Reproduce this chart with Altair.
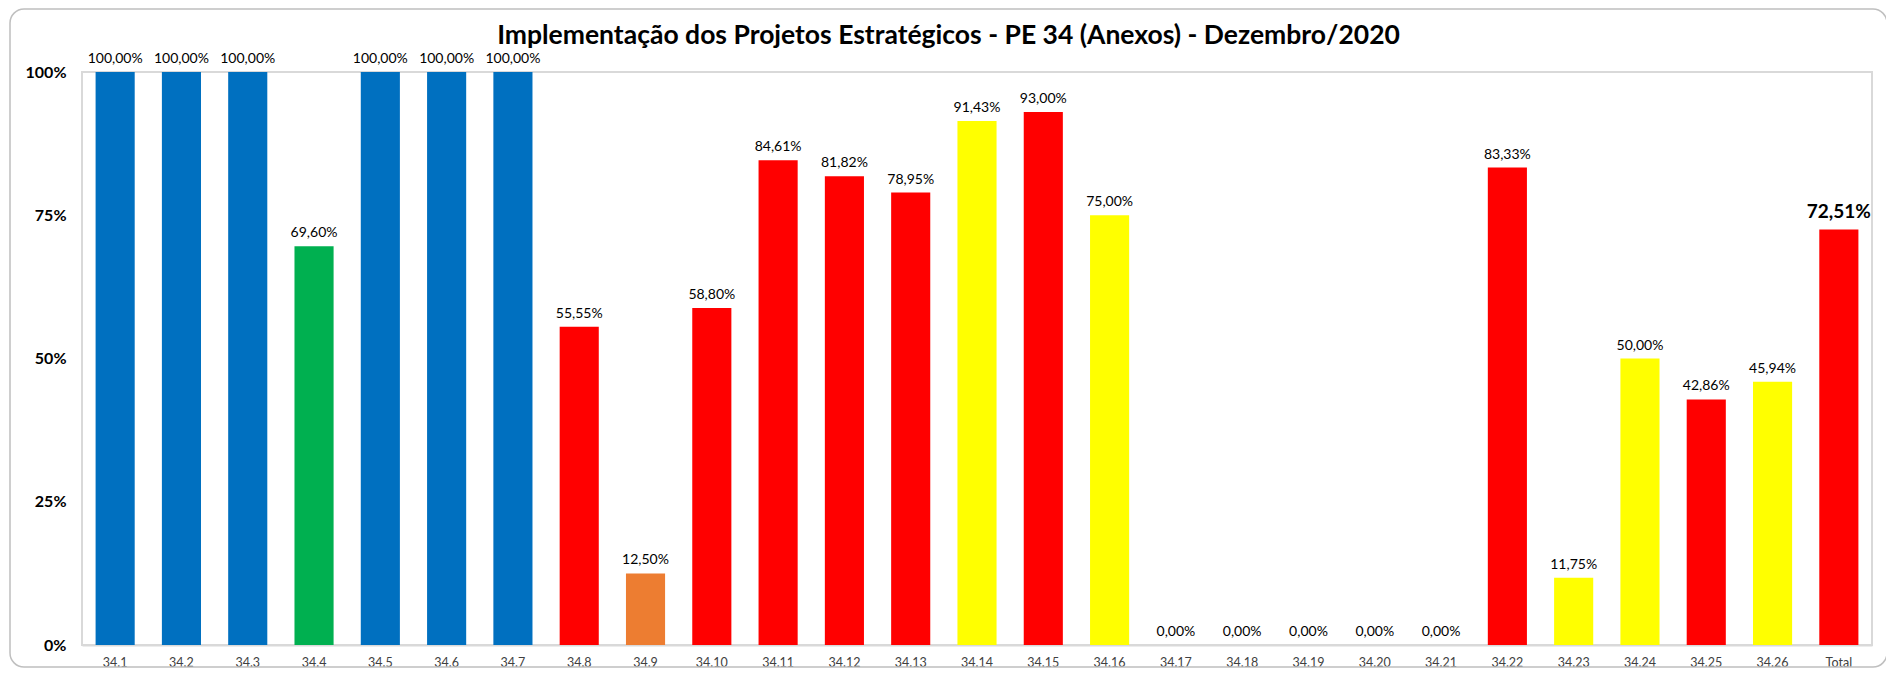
import altair as alt
import pandas as pd

categorias = ["34.1", "34.2", "34.3", "34.4", "34.5", "34.6", "34.7", "34.8", "34.9",
              "34.10", "34.11", "34.12", "34.13", "34.14", "34.15", "34.16", "34.17",
              "34.18", "34.19", "34.20", "34.21", "34.22", "34.23", "34.24", "34.25",
              "34.26", "Total"]
valores = [100.00, 100.00, 100.00, 69.60, 100.00, 100.00, 100.00, 55.55, 12.50,
           58.80, 84.61, 81.82, 78.95, 91.43, 93.00, 75.00, 0.00,
           0.00, 0.00, 0.00, 0.00, 83.33, 11.75, 50.00, 42.86,
           45.94, 72.51]
status = ["azul", "azul", "azul", "verde", "azul", "azul", "azul", "vermelho", "laranja",
          "vermelho", "vermelho", "vermelho", "vermelho", "amarelo", "vermelho", "amarelo", "vermelho",
          "vermelho", "vermelho", "vermelho", "vermelho", "vermelho", "amarelo", "amarelo", "vermelho",
          "amarelo", "vermelho"]
cores_dom = ["azul", "verde", "vermelho", "laranja", "amarelo"]
cores_rng = ["#0070C0", "#00B050", "#FF0000", "#ED7D31", "#FFFF00"]

df = pd.DataFrame({"cat": categorias, "v": [x / 100 for x in valores], "st": status})
df["total"] = df["cat"] == "Total"

W, H = 1790, 573
FONT = "Lato"

x_enc = alt.X("cat:N", sort=categorias, title=None,
              scale=alt.Scale(paddingInner=0.41, paddingOuter=0.205),
              axis=alt.Axis(labelAngle=0, labelFontSize=12.5, labelColor="#404040",
                            labelFont=FONT, ticks=False, domainColor="#d9d9d9",
                            domainWidth=2, labelPadding=11))
y_enc = alt.Y("v:Q", title=None, scale=alt.Scale(domain=[0, 1], nice=False),
              axis=alt.Axis(values=[0, 0.25, 0.5, 0.75, 1], format=".0%", grid=False,
                            domain=False, ticks=False, labelFontSize=16,
                            labelFontWeight="bold", labelFont=FONT, labelColor="#000000",
                            labelPadding=16))

borda = alt.Chart(pd.DataFrame({"a": [0]})).mark_rect(
    fill=None, stroke="#bfbfbf", strokeWidth=1.5, cornerRadius=14, clip=False
).encode(x=alt.value(-72), x2=alt.value(W + 15), y=alt.value(-63), y2=alt.value(H + 22))

base = alt.Chart(df)

barras = base.mark_bar(clip=False).encode(
    x=x_enc, y=y_enc,
    color=alt.Color("st:N", scale=alt.Scale(domain=cores_dom, range=cores_rng), legend=None),
)

rotulos = base.transform_filter("!datum.total").transform_calculate(
    lbl="replace(format(datum.v, '.2%'), '.', ',')"
).mark_text(dy=-13, fontSize=14, font=FONT, color="#000000").encode(
    x=alt.X("cat:N", sort=categorias), y="v:Q", text="lbl:N"
)

rotulo_total = base.transform_filter("datum.total").transform_calculate(
    lbl="replace(format(datum.v, '.2%'), '.', ',')"
).mark_text(dy=-18, fontSize=19, fontWeight="bold", font=FONT, color="#000000").encode(
    x=alt.X("cat:N", sort=categorias), y="v:Q", text="lbl:N"
)

chart = alt.layer(borda, barras, rotulos, rotulo_total).properties(
    width=W, height=H,
    title=alt.TitleParams("Implementação dos Projetos Estratégicos - PE 34 (Anexos) - Dezembro/2020",
                          fontSize=26.5, fontWeight="bold", font=FONT, color="#000000",
                          anchor="middle", frame="bounds", offset=-41),
    autosize=alt.AutoSizeParams(type="none"),
    padding={"left": 74, "top": 64, "right": 14, "bottom": 24},
).configure_view(stroke="#d9d9d9", strokeWidth=2)

chart.save("out.html", embed_options={"renderer": "svg", "actions": False})
